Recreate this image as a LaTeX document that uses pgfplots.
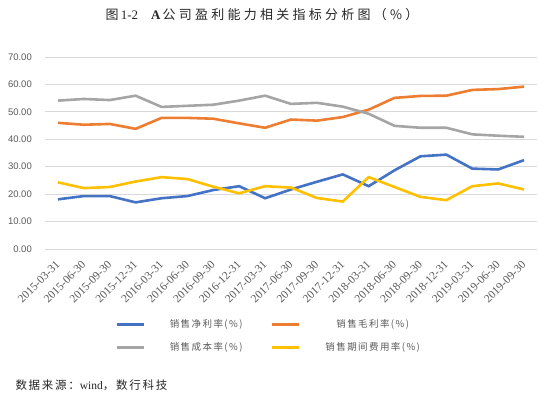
\documentclass[border=0pt]{standalone}
\usepackage{pgfplots}
\pgfplotsset{compat=1.18}
\usepackage{fontspec}
\setmainfont{Liberation Serif}
\newfontfamily\cjk{Noto Sans CJK SC}
\newfontfamily\cjkls[LetterSpace=25]{Noto Sans CJK SC}
\newfontfamily\cjklt[LetterSpace=15]{Noto Sans CJK SC}
\newfontfamily\sans{Liberation Sans}
\definecolor{cblue}{HTML}{4472C4}
\definecolor{corange}{HTML}{ED7D31}
\definecolor{cgray}{HTML}{A5A5A5}
\definecolor{cyellow}{HTML}{FFC000}
\definecolor{cgrid}{HTML}{D9D9D9}
\definecolor{ctext}{HTML}{595959}
\begin{document}
\begin{tikzpicture}
\path[use as bounding box] (0pt,0pt) rectangle (540pt,398pt);
\node[font=\fontsize{13}{15}\selectfont, text=black!85] at (262pt,383pt) {{\cjkls 图}\,1-2\quad \textbf{A}\,{\cjkls 公司盈利能力相关指标分析图（\%）}};
\begin{axis}[
  at={(45pt,149pt)}, anchor=south west, scale only axis,
  width=492pt, height=192pt,
  xmin=-0.5, xmax=18.5, ymin=0, ymax=70,
  ytick={0,10,...,70},
  xtick={0,...,18},
  xticklabels={2015-03-31,2015-06-30,2015-09-30,2015-12-31,2016-03-31,2016-06-30,2016-09-30,2016-12-31,2017-03-31,2017-06-30,2017-09-30,2017-12-31,2018-03-31,2018-06-30,2018-09-30,2018-12-31,2019-03-31,2019-06-30,2019-09-30},
  ymajorgrids, grid style={draw=cgrid, line width=0.8pt},
  axis line style={draw=none},
  major tick length=0pt,
  /pgf/number format/.cd, fixed, fixed zerofill, precision=2, assume math mode=true,
  /pgfplots/.cd,
  yticklabel style={font=\sans\fontsize{9.5}{11}\selectfont, text=ctext, inner sep=0pt, xshift=-13pt},
  xticklabel style={font=\fontsize{11.5}{13}\selectfont, text=ctext, inner sep=0pt, xshift=-3pt, yshift=-11pt, rotate=45, anchor=north east},
  legend columns=2,
  legend image code/.code={\draw[#1] (0pt,0pt) -- (27pt,0pt);},
  legend style={at={(0.1423,-0.3594)}, anchor=north west, draw=none, fill=none, inner sep=0pt,
    font=\cjklt\fontsize{9.5}{11}\selectfont, text=ctext,
    nodes={inner sep=0pt, minimum height=12pt},
    /tikz/every odd column/.append style={column sep=25pt},
    row sep=11pt},
  every axis plot/.append style={line width=2.6pt, mark=none},
]
\addplot[cblue] coordinates {(0,18.1)(1,19.3)(2,19.3)(3,17.0)(4,18.5)(5,19.3)(6,21.5)(7,22.9)(8,18.5)(9,21.7)(10,24.5)(11,27.2)(12,22.9)(13,28.7)(14,33.8)(15,34.4)(16,29.3)(17,29.0)(18,32.4)};
\addlegendentry{\makebox[101pt][l]{销售净利率(\%)}}
\addplot[corange] coordinates {(0,46.0)(1,45.3)(2,45.6)(3,43.8)(4,47.8)(5,47.8)(6,47.5)(7,45.8)(8,44.2)(9,47.2)(10,46.8)(11,48.1)(12,50.8)(13,55.1)(14,55.8)(15,55.9)(16,58.0)(17,58.3)(18,59.2)};
\addlegendentry{销售毛利率(\%)}
\addplot[cgray] coordinates {(0,54.1)(1,54.7)(2,54.3)(3,55.9)(4,51.8)(5,52.2)(6,52.6)(7,54.1)(8,55.9)(9,52.9)(10,53.3)(11,51.9)(12,49.3)(13,44.9)(14,44.2)(15,44.2)(16,41.8)(17,41.3)(18,40.9)};
\addlegendentry{\makebox[101pt][l]{销售成本率(\%)}}
\addplot[cyellow] coordinates {(0,24.3)(1,22.2)(2,22.6)(3,24.6)(4,26.2)(5,25.5)(6,22.7)(7,20.3)(8,22.9)(9,22.4)(10,18.6)(11,17.3)(12,26.2)(13,22.6)(14,19.0)(15,17.8)(16,22.9)(17,23.9)(18,21.7)};
\addlegendentry{销售期间费用率(\%)}
\end{axis}
\node[anchor=west, font=\fontsize{11.5}{13}\selectfont, text=black!85] at (12pt,13pt) {{\cjklt 数据来源：}wind{\cjklt ，数行科技}};
\end{tikzpicture}
\end{document}
